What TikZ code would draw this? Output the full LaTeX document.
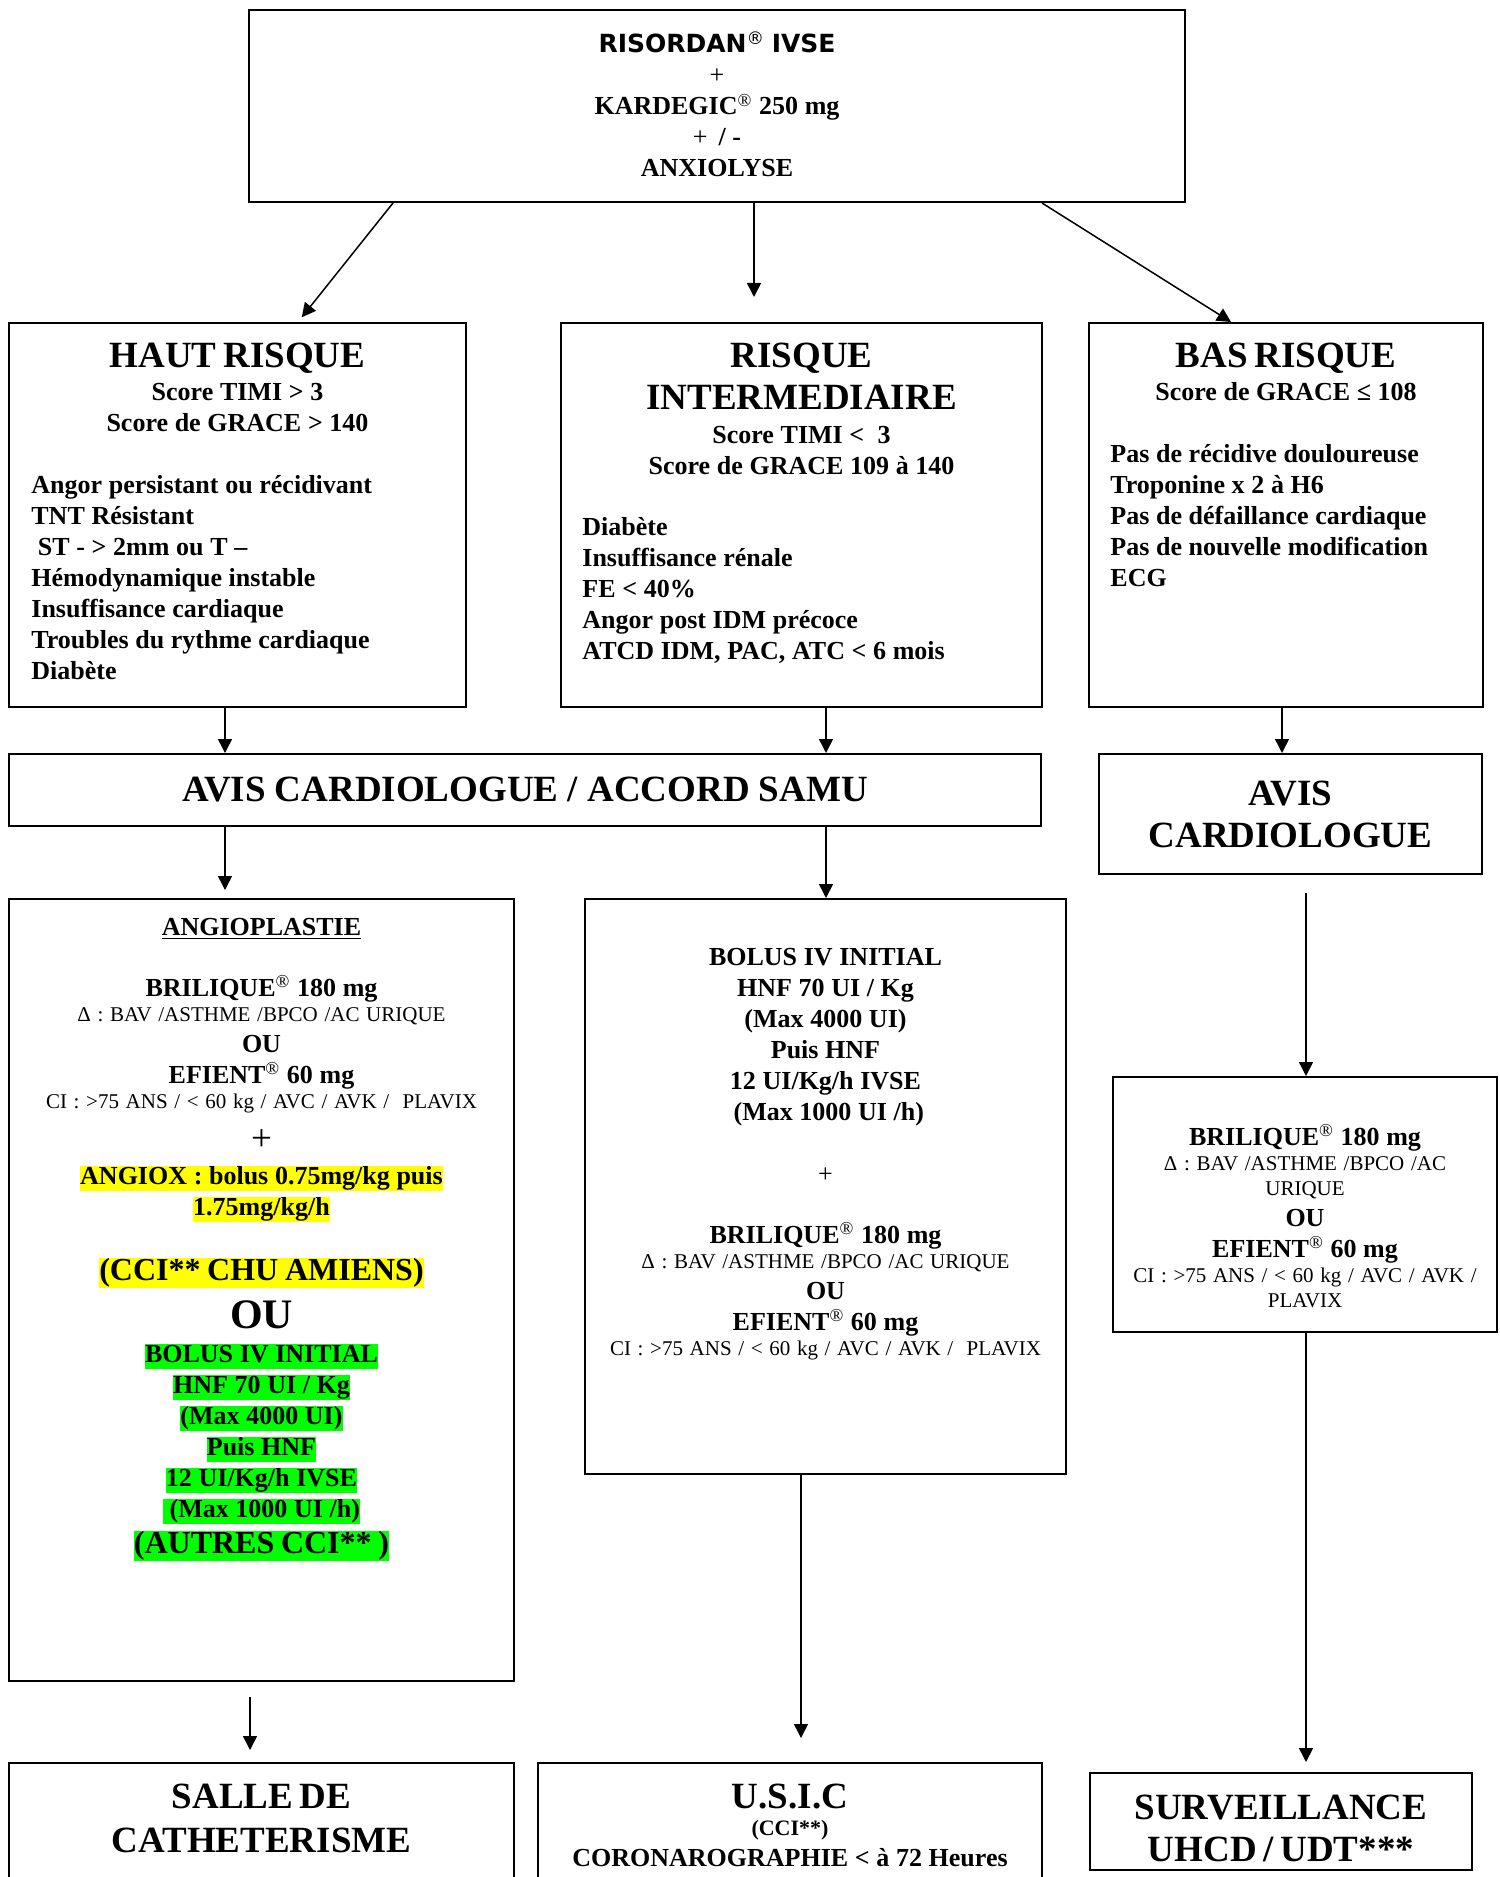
\documentclass[tikz,border=0pt]{standalone}
\usepackage{fontspec}
\setmainfont{Liberation Serif}
\newfontfamily\risofont{DejaVu Sans}
\usetikzlibrary{arrows.meta}

\definecolor{hlyellow}{RGB}{255,255,0}
\definecolor{hlgreen}{RGB}{0,255,0}
\setlength{\fboxsep}{0pt}
\newcommand{\fhead}{\fontsize{18.5}{21}\selectfont\bfseries}
\newcommand{\fmed}{\fontsize{13}{15.5}\selectfont\bfseries}
\newcommand{\fsmall}{\fontsize{10.5}{12.5}\selectfont\mdseries}
\newcommand{\regmark}{\textsuperscript{\mdseries ®}}
\newcommand{\hlstrut}{\rule[-0.2\baselineskip]{0pt}{0.8\baselineskip}}
\newcommand{\hly}[1]{\colorbox{hlyellow}{\hlstrut #1}}
\newcommand{\hlg}[1]{\colorbox{hlgreen}{\hlstrut #1}}

\begin{document}
\begin{tikzpicture}
[x=0.5pt, y=-0.5pt,
 every node/.style={inner sep=0pt},
 box/.style={draw, line width=1pt, rectangle},
 txt/.style={align=center, anchor=north},
 lst/.style={align=left, anchor=north west},
 arr/.style={-{Triangle[length=7pt, width=7pt]}, line width=0.75pt}]
\useasboundingbox (0,0) rectangle (1499,1877);

% boxes
\node (top) [box, minimum width=468pt, minimum height=96pt] at (717,106) {};
\node (haut) [box, minimum width=228.5pt, minimum height=192pt] at (237.5,515) {};
\node (inter) [box, minimum width=240.5pt, minimum height=192pt] at (801.5,515) {};
\node (bas) [box, minimum width=197pt, minimum height=192pt] at (1286,515) {};
\node (samu) [box, minimum width=516pt, minimum height=36pt, font=\fhead] at (525,790) {AVIS CARDIOLOGUE / ACCORD SAMU};
\node (cardio) [box, minimum width=191.5pt, minimum height=60pt, align=center, font=\fhead] at (1290.5,814) {AVIS\\CARDIOLOGUE};
\node (angio) [box, minimum width=252.5pt, minimum height=391pt] at (261.5,1290) {};
\node (bolus) [box, minimum width=240.5pt, minimum height=287.5pt] at (825.5,1186.5) {};
\node (bril) [box, minimum width=192pt, minimum height=127.5pt] at (1305,1204.5) {};
\node (salle) [box, minimum width=252.5pt, minimum height=100pt] at (261.5,1863) {};
\node (usic) [box, minimum width=252pt, minimum height=100pt] at (790,1863) {};
\node (surv) [box, minimum width=191pt, minimum height=48.5pt] at (1281,1821.5) {};

% texts
\node (topTxt) [txt, text width=300pt] at (717,31) {\fmed
  {\risofont\fontsize{12.5}{15.5}\selectfont RISORDAN\regmark{} IVSE}\\
  {\mdseries +}\\
  KARDEGIC\regmark{} 250 mg\\
  {\mdseries +}\ \,/ -\\
  ANXIOLYSE\par};
\node (hautHead) [txt, text width=228pt] at (237.5,343) {\fhead HAUT RISQUE\\[1pt]
  \fmed Score TIMI > 3\\Score de GRACE > 140\par};
\node (hautLst) [lst, text width=215pt] at (31,475) {\fmed
  Angor persistant ou récidivant\\TNT Résistant\\\hspace{0.25em}ST - > 2mm ou T –\\
  Hémodynamique instable\\Insuffisance cardiaque\\Troubles du rythme cardiaque\\Diabète\par};
\node (interHead) [txt, text width=240pt] at (801.5,343) {\fhead RISQUE\\INTERMEDIAIRE\\[1.5pt]
  \fmed Score TIMI <\ \ 3\\Score de GRACE 109 à 140\par};
\node (interLst) [lst, text width=228pt] at (582,517) {\fmed
  Diabète\\Insuffisance rénale\\FE < 40\%\\Angor post IDM précoce\\ATCD IDM, PAC, ATC < 6 mois\par};
\node (basHead) [txt, text width=196pt] at (1286,343) {\fhead BAS RISQUE\\[1pt]
  \fmed Score de GRACE ≤ 108\par};
\node (basLst) [lst, text width=186pt] at (1110,444) {\fmed
  Pas de récidive douloureuse\\Troponine x 2 à H6\\Pas de défaillance cardiaque\\
  Pas de nouvelle modification\\ECG\par};

\node (angioTxt) [txt, text width=250pt] at (261.5,918) {\fmed
  \underline{ANGIOPLASTIE}\\[15pt]
  BRILIQUE\regmark{} 180 mg\\
  \fsmall Δ : BAV /ASTHME /BPCO /AC URIQUE\\
  \fmed OU\\
  EFIENT\regmark{} 60 mg\\
  \fsmall CI : >75 ANS / < 60 kg / AVC / AVK /\ \ PLAVIX\\
  \fontsize{18.5}{21}\selectfont\mdseries +\\[1.5pt]
  \fmed \hly{ANGIOX : bolus 0.75mg/kg puis}\\
  \hly{1.75mg/kg/h}\\[14.5pt]
  \fontsize{16}{18}\selectfont \hly{(CCI** CHU AMIENS)}\\
  \fontsize{21}{24}\selectfont OU\\[1.5pt]
  \fmed \hlg{BOLUS IV INITIAL}\\
  \hlg{HNF 70 UI / Kg}\\
  \hlg{(Max 4000 UI)}\\
  \hlg{Puis HNF}\\
  \hlg{12 UI/Kg/h IVSE}\\
  \hlg{\ (Max 1000 UI /h)}\\
  \fontsize{16}{18}\selectfont \hlg{(AUTRES CCI** )}\par};

\node (bolusTxt) [txt, text width=238pt] at (825.5,948) {\fmed
  BOLUS IV INITIAL\\HNF 70 UI / Kg\\(Max 4000 UI)\\Puis HNF\\12 UI/Kg/h IVSE\\\ (Max 1000 UI /h)\\[15.5pt]
  {\mdseries +}\\[15pt]
  BRILIQUE\regmark{} 180 mg\\
  \fsmall Δ : BAV /ASTHME /BPCO /AC URIQUE\\
  \fmed OU\\
  EFIENT\regmark{} 60 mg\\
  \fsmall CI : >75 ANS / < 60 kg / AVC / AVK /\ \ PLAVIX\par};

\node (brilTxt) [txt, text width=190pt] at (1305,1124) {\fmed
  BRILIQUE\regmark{} 180 mg\\
  \fsmall Δ : BAV /ASTHME /BPCO /AC\\URIQUE\\
  \fmed OU\\
  EFIENT\regmark{} 60 mg\\
  \fsmall CI : >75 ANS / < 60 kg / AVC / AVK /\\PLAVIX\par};

\node (salleTxt) [txt, text width=250pt] at (261.5,1784) {\fhead SALLE DE\\[1pt]CATHETERISME\par};
\node (usicTxt) [txt, text width=250pt] at (790,1784) {\fhead U.S.I.C\\
  \fontsize{11}{13.5}\selectfont (CCI**)\\
  \fmed CORONAROGRAPHIE < à 72 Heures\par};
\node (survTxt) [txt, text width=190pt] at (1281,1795) {\fhead SURVEILLANCE\\UHCD / UDT***\par};

% connector columns
\coordinate (topL) at (393,0);
\coordinate (hautL) at (298,0);
\coordinate (topM) at (754,0);
\coordinate (topR) at (1042,0);
\coordinate (basL) at (1231,0);
\coordinate (colA) at (225,0);
\coordinate (colB) at (826,0);
\coordinate (colC) at (1282,0);
\coordinate (colD) at (1306,0);
\coordinate (colE) at (250,0);
\coordinate (colF) at (801,0);

\draw [arr, shorten >=3pt] (top.south -| topL) to (haut.north -| hautL);
\draw [arr, shorten >=12.5pt] (top.south -| topM) to (inter.north -| topM);
\draw [arr] (top.south -| topR) to (bas.north -| basL);
\draw [arr] (haut.south -| colA) to (samu.north -| colA);
\draw [arr] (inter.south -| colB) to (samu.north -| colB);
\draw [arr] (bas.south -| colC) to (cardio.north -| colC);
\draw [arr, shorten >=4pt] (samu.south -| colA) to (angio.north -| colA);
\draw [arr] (samu.south -| colB) to (bolus.north -| colB);
\draw [arr, shorten <=9pt] (cardio.south -| colD) to (bril.north -| colD);
\draw [arr, shorten <=7.5pt, shorten >=6pt] (angio.south -| colE) to (salle.north -| colE);
\draw [arr, shorten >=12pt] (bolus.south -| colF) to (usic.north -| colF);
\draw [arr, shorten >=5pt] (bril.south -| colD) to (surv.north -| colD);
\end{tikzpicture}
\end{document}
